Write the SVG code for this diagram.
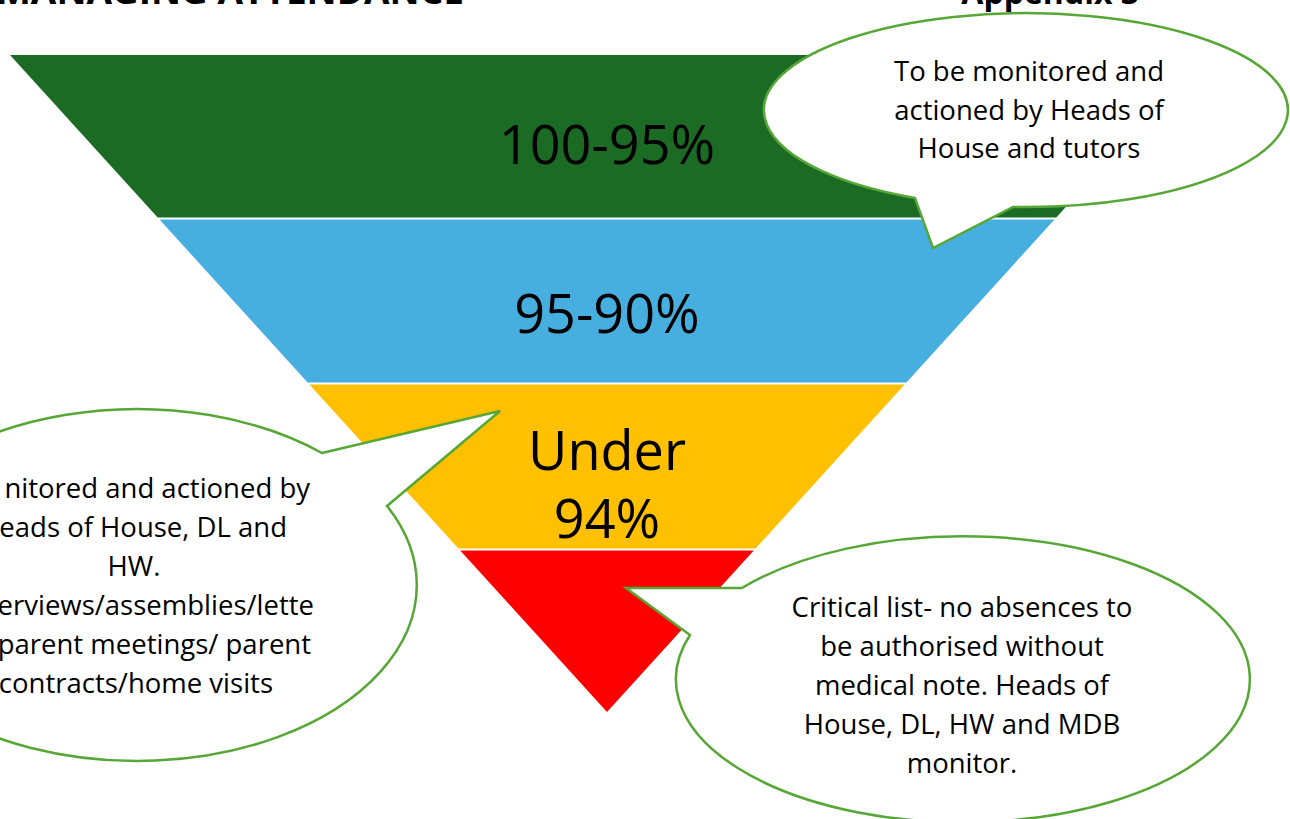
<svg xmlns="http://www.w3.org/2000/svg" width="1290" height="819" viewBox="0 0 1290 819">
<style>
.band-label{font-family:"Open Sans","Liberation Sans",sans-serif;font-size:54px;fill:#000;text-anchor:middle}
.note{font-family:"Open Sans","Liberation Sans",sans-serif;font-size:27.5px;fill:#000;text-anchor:middle}
.note-end{font-family:"Open Sans","Liberation Sans",sans-serif;font-size:27.5px;fill:#000;text-anchor:end}
.title{font-family:"Open Sans","Liberation Sans",sans-serif;font-weight:bold;fill:#000;text-anchor:end}
.callout{fill:#fff;stroke:#56A736;stroke-width:2.5;stroke-linejoin:miter}
</style>
<rect width="1290" height="819" fill="#fff"/>
<g id="header">
<text class="title" x="464" y="4" font-size="37">MANAGING ATTENDANCE</text>
<text class="title" x="1139" y="4" font-size="32">Appendix 3</text>
</g>
<g id="funnel">
<g id="band-green">
<polygon points="10,55 1204,55 1056.3,217.5 157.7,217.5" fill="#1B6B24"/>
<text class="band-label" x="607" y="164">100-95%</text>
</g>
<g id="band-blue">
<polygon points="159.5,219.5 1054.5,219.5 906.4,382.5 307.6,382.5" fill="#47AFE0"/>
<text class="band-label" x="607" y="333">95-90%</text>
</g>
<g id="band-yellow">
<polygon points="309.4,384.5 904.6,384.5 755.6,548.5 458.4,548.5" fill="#FFC000"/>
<text class="band-label" x="607" y="470">Under</text>
<text class="band-label" x="607" y="538">94%</text>
</g>
<g id="band-red">
<polygon points="460.2,550.5 753.8,550.5 607,712" fill="#FF0000"/>
</g>
</g>
<g id="callout-top-right">
<path class="callout" d="M 1013,207 A 262 97 0 1 0 915,198 L 933,248 Z"/>
<text class="note" x="1029" y="81">To be monitored and</text>
<text class="note" x="1029" y="120">actioned by Heads of</text>
<text class="note" x="1029" y="158">House and tutors</text>
</g>
<g id="callout-left">
<path class="callout" d="M 322,453 L 500,411 L 387,506 A 280 176 0 1 1 322,453 Z"/>
<text class="note-end" x="310" y="498">nitored and actioned by</text>
<text class="note-end" x="287" y="537">eads of House, DL and</text>
<text class="note" x="134" y="576">HW.</text>
<text class="note-end" x="314" y="615">erviews/assemblies/lette</text>
<text class="note-end" x="311" y="654">parent meetings/ parent</text>
<text class="note-end" x="273" y="693">contracts/home visits</text>
</g>
<g id="callout-bottom-right">
<path class="callout" d="M 742,588 L 626,588 L 690,635 A 287 143 0 1 0 742,588 Z"/>
<text class="note" x="962" y="617">Critical list- no absences to</text>
<text class="note" x="962" y="656">be authorised without</text>
<text class="note" x="962" y="695">medical note. Heads of</text>
<text class="note" x="962" y="734">House, DL, HW and MDB</text>
<text class="note" x="962" y="773">monitor.</text>
</g>
</svg>
